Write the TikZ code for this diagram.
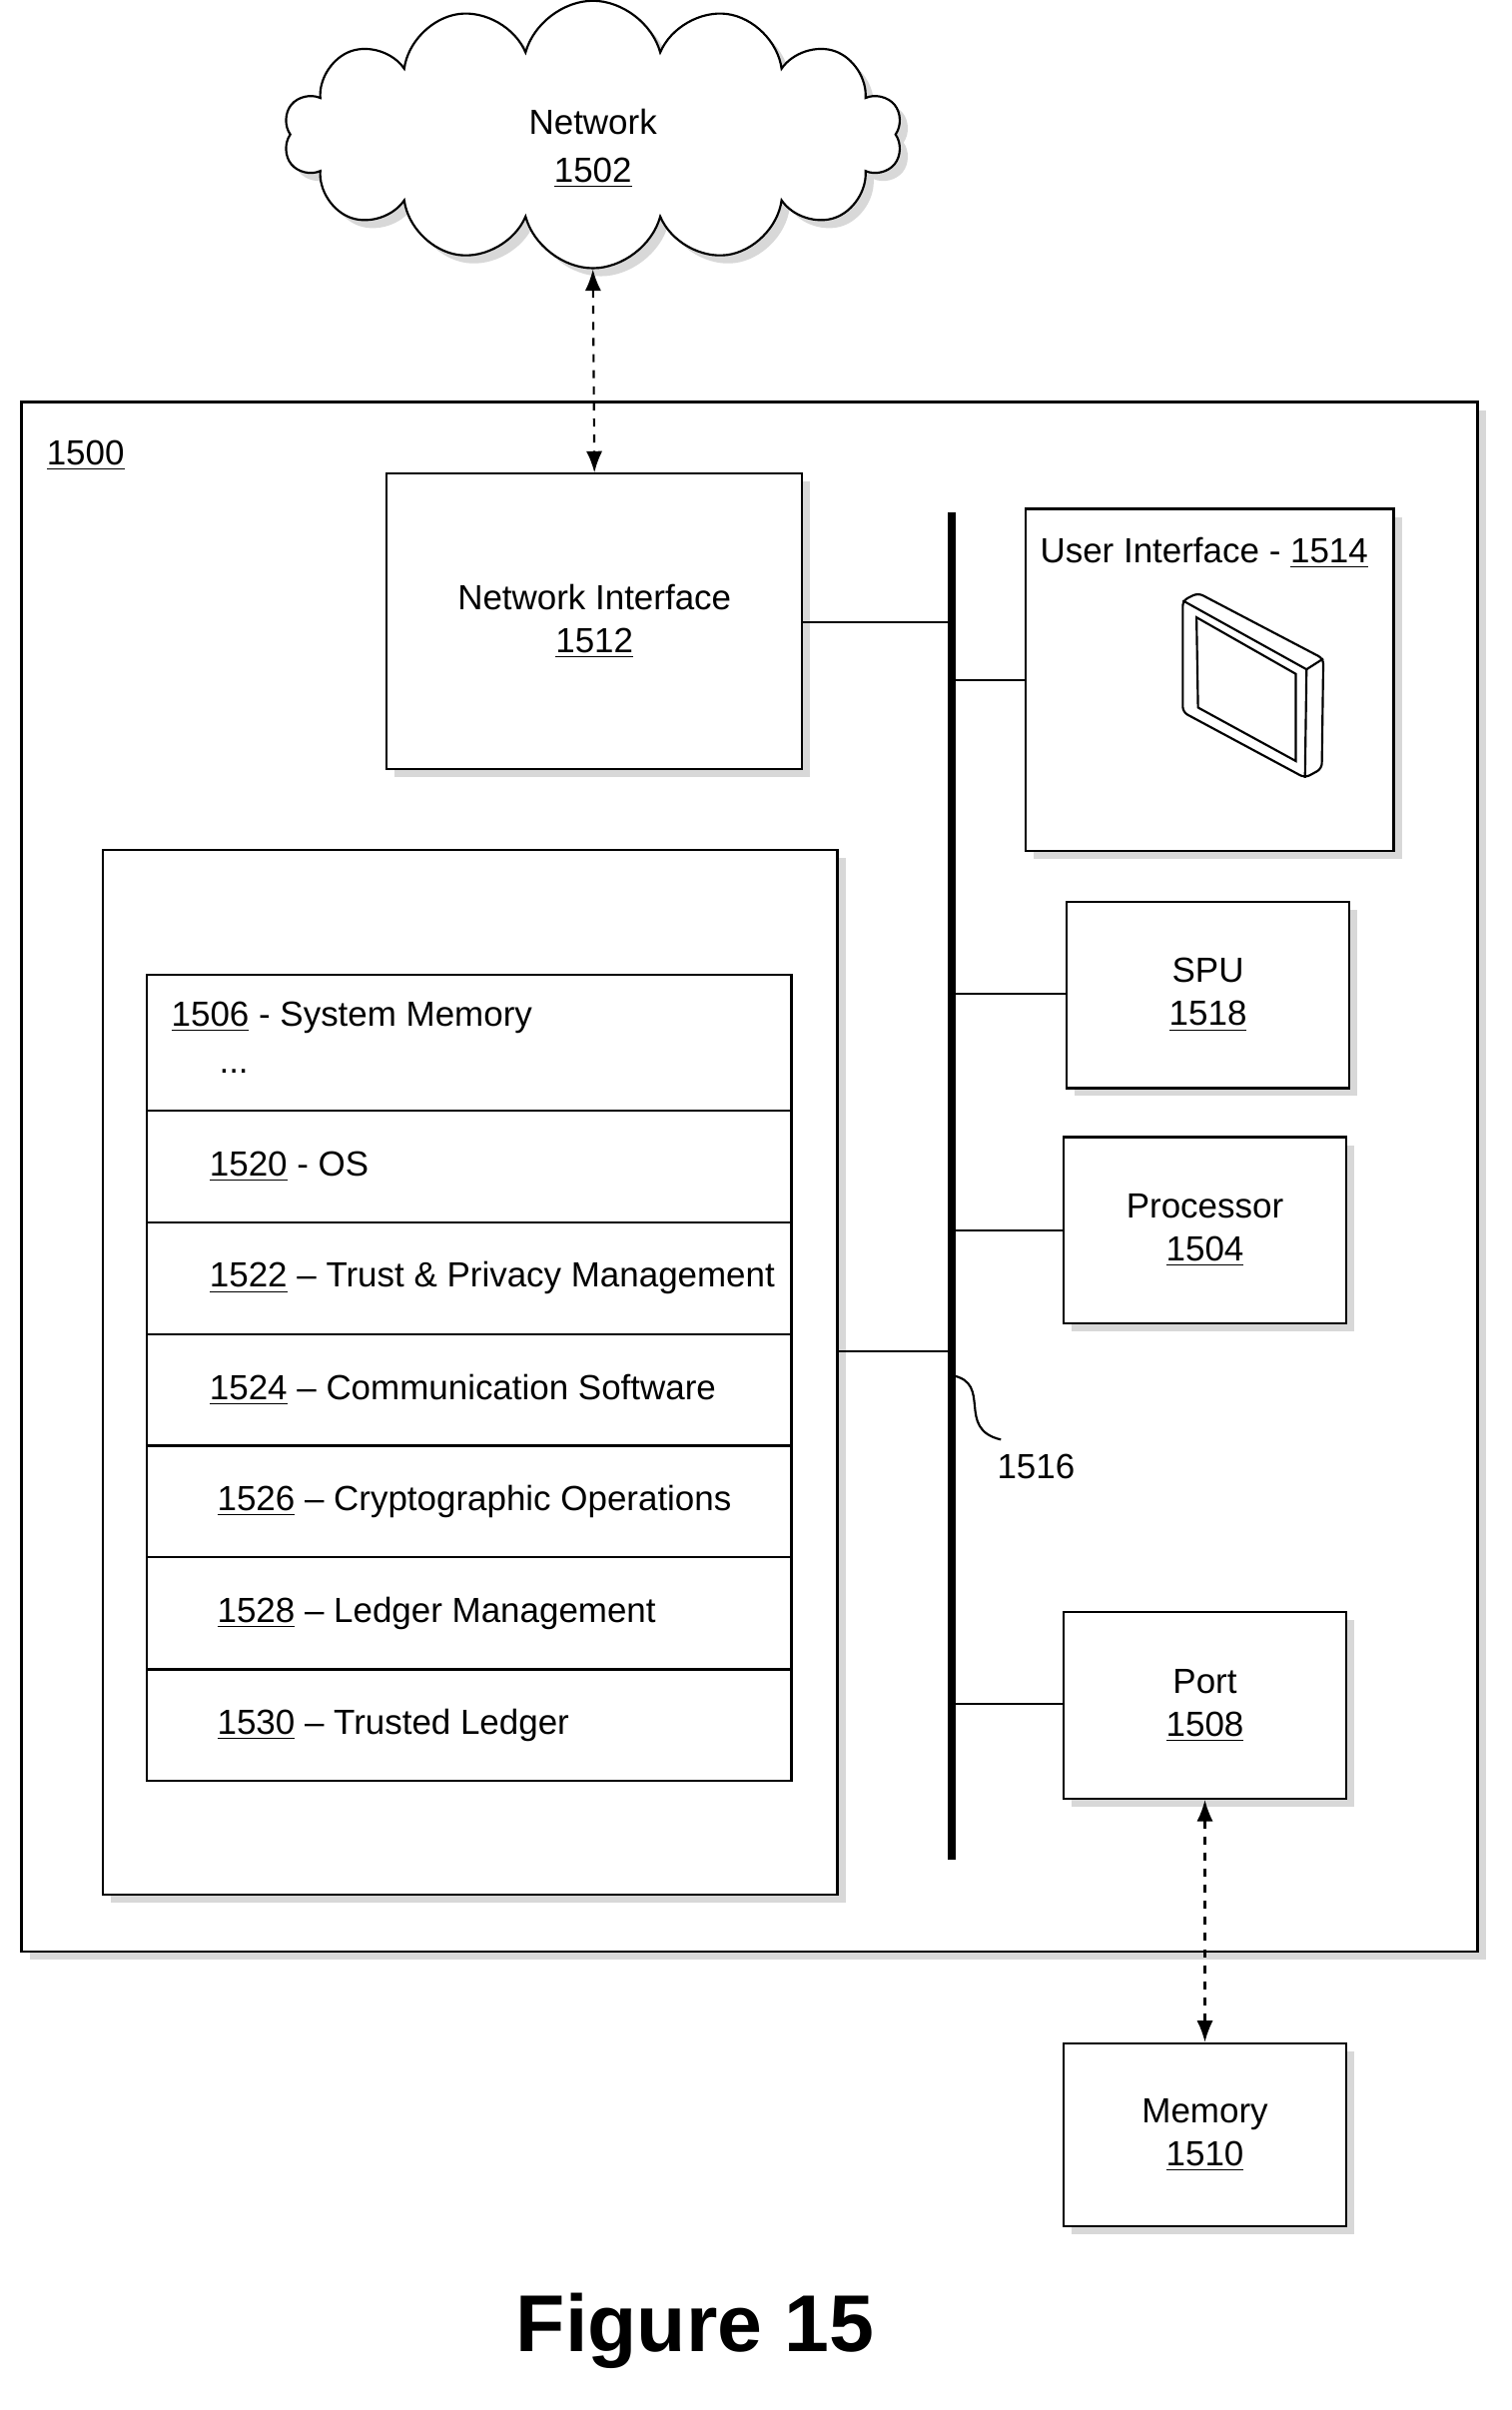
\documentclass[tikz,border=0pt]{standalone}
\usepackage{fontspec}
\setmainfont{Liberation Sans}
\usetikzlibrary{shapes.symbols,shadows,arrows.meta}
\tikzset{
  box/.style={draw, thick, fill=white, drop shadow={shadow xshift=3pt, shadow yshift=-3pt, fill=gray!60}},
  row/.style={draw, thick, fill=white, minimum width=8.44cm, minimum height=1.46cm},
  link/.style={thick},
  dlink/.style={thick, dashed, {Latex[length=8pt]}-{Latex[length=8pt]}},
  lbl/.style={font=\fontsize{13}{16}\selectfont, align=center}
}
\begin{document}
\begin{tikzpicture}[x=0.02cm, y=-0.02cm, lbl]
\useasboundingbox (0,0) rectangle (989,1577);
% network cloud
\node (net) [cloud, cloud puffs=14, aspect=2.4, draw, thick, fill=white, minimum width=8.1cm, minimum height=3.5cm,
  drop shadow={shadow xshift=3pt, shadow yshift=-3pt, fill=gray!60}] at (388,88) {};
\node at (388,80) {Network};
\node at (388,113) {\underline{1502}};
% outer device
\node (dev) [box, minimum width=19.06cm, minimum height=20.28cm] at (490.5,770) {};
\node at (56,298) {\underline{1500}};
\node (nic) [box, minimum width=5.44cm, minimum height=3.86cm] at (389,406.5) {Network Interface\\\underline{1512}};
\node (ui) [box, minimum width=4.82cm, minimum height=4.48cm] at (791.5,445) {};
\node at (788,362) {User Interface - \underline{1514}};
\node (spu) [box, minimum width=3.7cm, minimum height=2.44cm] at (790.5,651) {SPU\\\underline{1518}};
\node (cpu) [box, minimum width=3.7cm, minimum height=2.44cm] at (788.5,805) {Processor\\\underline{1504}};
\node (port) [box, minimum width=3.7cm, minimum height=2.44cm] at (788.5,1116) {Port\\\underline{1508}};
\node (mem) [box, minimum width=3.7cm, minimum height=2.4cm] at (788.5,1397) {Memory\\\underline{1510}};
% tablet icon
\draw [thick, rounded corners=2pt] (774,393) -- (784,388) -- (866,431) -- (865,503) -- (854,509) -- (774,466) -- cycle;
\draw [thick] (774,393) -- (855,438) -- (854,509);
\draw [thick] (855,438) -- (866,431);
\draw [thick] (783,404) -- (848,441) -- (848,498) -- (784,463) -- cycle;
% memory stack
\node (store) [box, minimum width=9.62cm, minimum height=13.68cm] at (307.5,898) {};
\node (sys) [row, minimum height=1.78cm] at (307,682.5) {};
\node [anchor=west] at (106,666) {\underline{1506} - System Memory};
\node at (153,701) {...};
\node (os) [row] at (307,763.5) {};
\node [anchor=west] at (131,763.5) {\underline{1520} - OS};
\node (trust) [row] at (307,836.5) {};
\node [anchor=west] at (131,836.5) {\underline{1522} -- Trust \& Privacy Management};
\node (comm) [row] at (307,909.5) {};
\node [anchor=west] at (131,909.5) {\underline{1524} -- Communication Software};
\node (crypt) [row] at (307,982.5) {};
\node [anchor=west] at (136,982.5) {\underline{1526} -- Cryptographic Operations};
\node (ledm) [row] at (307,1055.5) {};
\node [anchor=west] at (136,1055.5) {\underline{1528} -- Ledger Management};
\node (ledt) [row] at (307,1129) {};
\node [anchor=west] at (136,1129) {\underline{1530} -- Trusted Ledger};
% bus
\coordinate (bustop) at (623,335);
\coordinate (busbot) at (623,1217);
\draw [line width=3pt] (bustop) -- (busbot);
\draw [link] (nic.east |- 0,407) -- (623,407);
\draw [link] (623,445) -- (ui.west |- 0,445);
\draw [link] (623,650) -- (spu.west |- 0,650);
\draw [link] (623,805) -- (cpu.west);
\draw [link] (623,1115) -- (port.west |- 0,1115);
\draw [link] (store.east |- 0,884) -- (623,884);
\draw [thick] (623,900) .. controls (650,905) and (625,935) .. (655,942);
\node at (678,960) {1516};
% dashed links
\draw [dlink] (net.south) -- (nic.north);
\draw [dlink] (port.south) -- (mem.north);
\node [font=\fontsize{30}{34}\selectfont\bfseries] at (455,1525) {Figure 15};
\end{tikzpicture}
\end{document}
